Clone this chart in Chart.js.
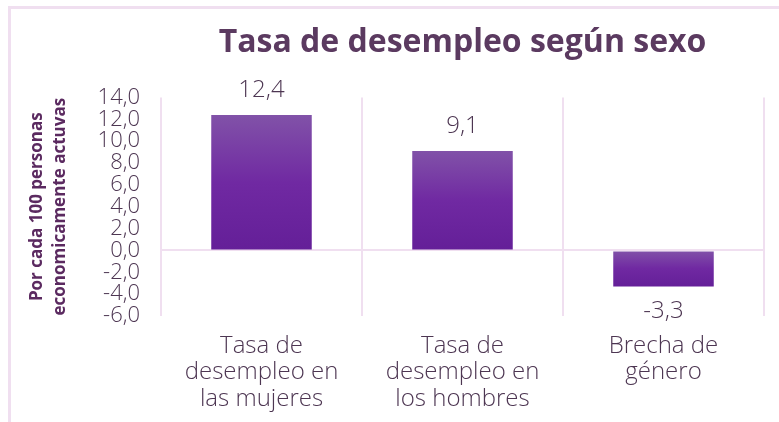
<!DOCTYPE html>
<html>
<head>
<meta charset="utf-8">
<script src="https://cdn.jsdelivr.net/npm/chart.js@4"></script>
<style>
  html, body { margin: 0; padding: 0; background: #fff; overflow: hidden; }
  #frame {
    position: absolute; left: 8px; top: 6px; width: 800px; height: 440px;
    border-top: 3px solid #f0dff0; border-left: 3px solid #f0dff0;
  }
  #chart { position: absolute; left: 0; top: 0; }
</style>
</head>
<body>
<div id="frame"></div>
<canvas id="chart" width="779" height="422"></canvas>
<script>
// data
const categories = [
    ["Tasa de", "desempleo en", "las mujeres"],
    ["Tasa de", "desempleo en", "los hombres"],
    ["Brecha de", "género"]
];
const values = [12.4, 9.1, -3.3];
const yMin = -6;
const yMax = 14;
const yStep = 2;

const textColor = "#4d3652";
const gridColor = "#f0dff0";
const fmt = v => v.toFixed(1).replace(".", ",");

function barGradient(ctx) {
    const chart = ctx.chart;
    const y = chart.scales.y;
    if (!y || !chart.chartArea) return "#7029a2";
    const v = ctx.raw;
    const top = y.getPixelForValue(Math.max(v, 0));
    const bottom = y.getPixelForValue(Math.min(v, 0));
    const g = chart.ctx.createLinearGradient(0, top, 0, bottom);
    g.addColorStop(0, "#8152a8");
    g.addColorStop(0.5, "#7029a2");
    g.addColorStop(1, "#641f98");
    return g;
}

// value labels above / below the bars
const valueLabels = {
    id: "valueLabels",
    afterDatasetsDraw(chart) {
        const ctx = chart.ctx;
        const meta = chart.getDatasetMeta(0);
        ctx.save();
        ctx.font = "300 24px 'Open Sans'";
        ctx.fillStyle = textColor;
        ctx.textAlign = "center";
        ctx.textBaseline = "middle";
        meta.data.forEach((bar, i) => {
            const v = values[i];
            const y = v >= 0 ? bar.y - 25 : bar.y + 25;
            ctx.fillText(fmt(v), bar.x, y);
        });
        ctx.restore();
    }
};

new Chart(document.getElementById("chart"), {
    type: "bar",
    data: {
        labels: categories,
        datasets: [{
            data: values,
            backgroundColor: barGradient,
            barPercentage: 0.5,
            categoryPercentage: 1.0
        }]
    },
    options: {
        responsive: false,
        animation: false,
        layout: { padding: { left: 0, right: 15, top: 0, bottom: 0 } },
        plugins: {
            legend: { display: false },
            tooltip: { enabled: false },
            title: {
                display: true,
                fullSize: false,
                text: "Tasa de desempleo según sexo",
                color: "#5b3a60",
                font: { family: "Open Sans", size: 32, weight: "bold" },
                padding: { top: 24, bottom: 35 }
            }
        },
        scales: {
            x: {
                grid: { color: gridColor, lineWidth: 2, drawTicks: false },
                border: { display: false },
                ticks: {
                    color: textColor,
                    padding: 17,
                    maxRotation: 0,
                    font: { family: "Open Sans", size: 24, weight: "300", lineHeight: 1.1 }
                },
                afterFit: s => { s.height = 106; }
            },
            y: {
                min: yMin,
                max: yMax,
                grid: {
                    color: c => (c.tick && c.tick.value === 0 ? gridColor : "transparent"),
                    lineWidth: 2,
                    drawTicks: false
                },
                border: { display: false },
                ticks: {
                    stepSize: yStep,
                    autoSkip: false,
                    color: textColor,
                    padding: 21,
                    callback: v => fmt(v),
                    font: { family: "Open Sans", size: 22, weight: "300", lineHeight: 1 }
                },
                title: {
                    display: true,
                    text: ["Por cada 100 personas", "economicamente actuvas"],
                    color: "#5b2a60",
                    font: { family: "Open Sans", size: 17, weight: "bold", lineHeight: 1.35 },
                    padding: { top: 26, bottom: 0 }
                },
                afterFit: s => { s.width = 161; }
            }
        }
    },
    plugins: [valueLabels]
});
</script>
</body>
</html>
